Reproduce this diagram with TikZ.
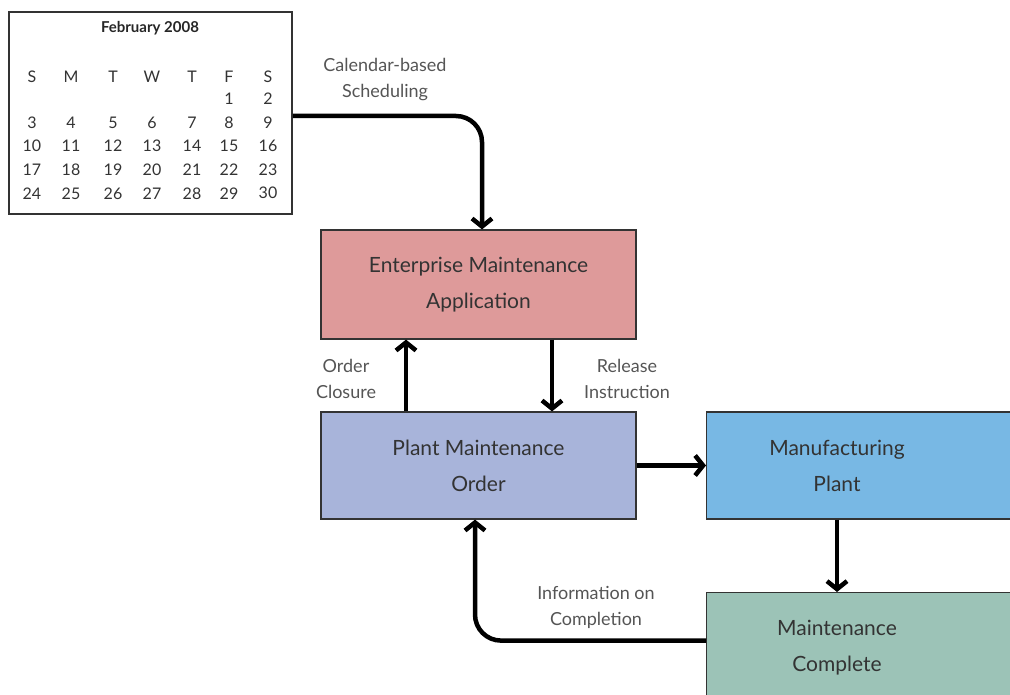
\documentclass[tikz,border=0pt]{standalone}
\usepackage{fontspec}
\setmainfont{Lato}
\usetikzlibrary{arrows.meta}
\usetikzlibrary{calc}

\definecolor{emared}{HTML}{DE9A9A}
\definecolor{pmoblue}{HTML}{A8B4DA}
\definecolor{plantblue}{HTML}{78B8E4}
\definecolor{donegreen}{HTML}{9CC3B7}
\definecolor{labelgray}{HTML}{555555}

\begin{document}
\begin{tikzpicture}[x=1pt, y=-1pt,
  box/.style={draw=black!80, line width=1.2pt, text=black!80, align=center,
    font=\fontsize{21}{36}\selectfont, inner sep=0pt},
  day/.style={font=\fontsize{16}{18}\selectfont, text=black!80},
  flow/.style={line width=4.5pt, -{Straight Barb[length=8pt, width=20pt, line width=4.5pt]}},
  lbl/.style={text=labelgray, align=center, font=\fontsize{18}{26}\selectfont}]
\clip (0,0) rectangle (1010,695);

%calendar
\node (cal) [draw=black!80, line width=1.5pt, minimum width=283pt, minimum height=202pt] at (150.5,113) {};
\node (month) at (150,28) [text=black!85, font=\bfseries\fontsize{15}{17}\selectfont] {February 2008};
\foreach \w [count=\c from 0] in {S,M,T,W,T,F,S} {
  \pgfmathsetmacro{\cx}{{32,71,113,152,192,229,268}[\c]}
  \node at (\cx,77) [day] {\w};
}
\foreach \d in {1,...,29} {
  \pgfmathtruncatemacro{\col}{mod(\d+4,7)}
  \pgfmathtruncatemacro{\row}{div(\d+4,7)}
  \pgfmathsetmacro{\cx}{{32,71,113,152,192,229,268}[\col]}
  \node at (\cx,99+23.6*\row) [day] {\d};
}
\node at (268,193) [day] {30};

%boxes
\node (ema) [box, fill=emared, minimum width=315pt, minimum height=109pt] at (478.5,284.5)
  {Enterprise Maintenance\\Application};
\node (pmo) [box, fill=pmoblue, minimum width=315pt, minimum height=107pt] at (478.5,465.5)
  {Plant Maintenance\\Order};
\node (plant) [box, fill=plantblue, minimum width=330pt, minimum height=107pt, anchor=west] at (706,465.5) {};
\node at (837,465.5) [box, draw=none] {Manufacturing\\Plant};
\node (done) [box, fill=donegreen, minimum width=330pt, minimum height=108pt, anchor=north west] at (706,592) {};
\node at (837,648) [box, draw=none] {Maintenance\\Complete};

%connectors
\draw[flow, rounded corners=26pt] ([yshift=-3pt]cal.east) -| ([xshift=3.5pt]ema.north);
\draw[flow] ([xshift=-72.5pt]pmo.north) -- ([xshift=-72.5pt]ema.south);
\draw[flow] ([xshift=73.5pt]ema.south) -- ([xshift=73.5pt]pmo.north);
\draw[flow] (pmo.east) -- (plant.west);
\draw[flow] ([xshift=131pt]plant.south west) -- ([xshift=131pt]done.north west);
\draw[flow, rounded corners=26pt] ([yshift=6pt]done.west) -| ([xshift=-3.5pt]pmo.south);

\node at (385,80) [lbl] {Calendar-based\\Scheduling};
\node at (346,379) [lbl] {Order\\Closure};
\node at (627,379) [lbl] {Release\\Instruction};
\node at (596,607) [lbl] {Information on\\Completion};

\end{tikzpicture}
\end{document}
